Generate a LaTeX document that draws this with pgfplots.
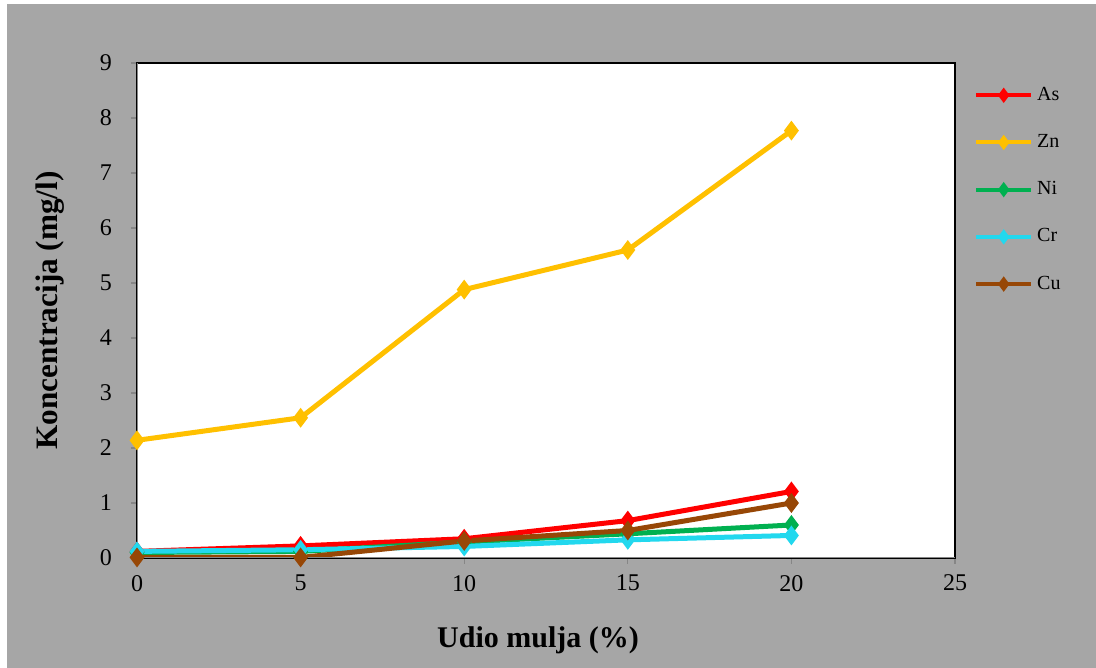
\documentclass[border=0pt]{standalone}
\usepackage{fontspec}
\setmainfont{Liberation Serif}
\usepackage{pgfplots}
\pgfplotsset{compat=1.18}
\definecolor{bg}{HTML}{A6A6A6}
\definecolor{axgray}{HTML}{868686}
\definecolor{cAs}{HTML}{FF0000}
\definecolor{cZn}{HTML}{FFC000}
\definecolor{cNi}{HTML}{00B050}
\definecolor{cCr}{HTML}{22D8EE}
\definecolor{cCu}{HTML}{974706}
\begin{document}
\begin{tikzpicture}
\fill[white] (0,0) rectangle (548pt,334pt);
\fill[bg] (3.5pt,0) rectangle (548pt,332pt);
\begin{axis}[
  at={(68.5pt,55pt)}, anchor=origin,
  scale only axis, width=409pt, height=247.5pt,
  xmin=0, xmax=25, ymin=0, ymax=9,
  xtick={0,5,10,15,20,25}, ytick={0,1,...,9},
  axis background/.style={fill=white},
  axis line style={black, line width=0.6pt},
  tick style={axgray, line width=0.6pt},
  tick align=outside, major tick length=3pt,
  xtick pos=bottom, ytick pos=left,
  /pgf/number format/assume math mode=true,
  ticklabel style={font=\fontsize{12}{14}\selectfont, text=black},
  xticklabel style={yshift=-2pt},
  yticklabel style={xshift=-6pt},
  xlabel={\textbf{Udio mulja (\%)}},
  ylabel={\textbf{Koncentracija (mg/l)}},
  label style={font=\fontsize{15.6}{18}\selectfont},
  xlabel style={yshift=-11pt, xshift=-4pt, font=\fontsize{15}{18}\selectfont},
  ylabel style={yshift=11pt},
  every axis plot/.append style={line width=2.5pt, mark=diamond*, mark size=2.9pt, mark options={solid, line width=0.5pt}},
  legend style={at={(1.023,0.96)}, anchor=north west, draw=none, fill=none,
    font=\fontsize{10}{11}\selectfont, row sep=11.5pt, inner sep=0pt,
    /tikz/every even column/.append style={column sep=2pt}},
  legend cell align=left,
  legend image code/.code={\draw[#1, line width=2pt, mark size=2.2pt, mark repeat=2, mark phase=2] plot coordinates {(0pt,0pt) (13.75pt,0pt) (27.5pt,0pt)};},
]
\addplot[cAs, mark options={fill=cAs, draw=cAs}] coordinates {(0,0.12) (5,0.22) (10,0.35) (15,0.68) (20,1.21)};
\addlegendentry{As}
\addplot[cZn, mark options={fill=cZn, draw=cZn}] coordinates {(0,2.14) (5,2.55) (10,4.88) (15,5.6) (20,7.77)};
\addlegendentry{Zn}
\addplot[cNi, mark options={fill=cNi, draw=cNi}] coordinates {(0,0.1) (5,0.12) (10,0.29) (15,0.44) (20,0.6)};
\addlegendentry{Ni}
\addplot[cCr, mark options={fill=cCr, draw=cCr}] coordinates {(0,0.12) (5,0.15) (10,0.21) (15,0.33) (20,0.41)};
\addlegendentry{Cr}
\addplot[cCu, mark options={fill=cCu, draw=cCu}] coordinates {(0,0.01) (5,0.01) (10,0.31) (15,0.5) (20,1.0)};
\addlegendentry{Cu}
\draw[axgray, line width=0.8pt] (rel axis cs:0,1) -- (rel axis cs:0,0) -- (rel axis cs:1,0);
\end{axis}
\end{tikzpicture}
\end{document}
